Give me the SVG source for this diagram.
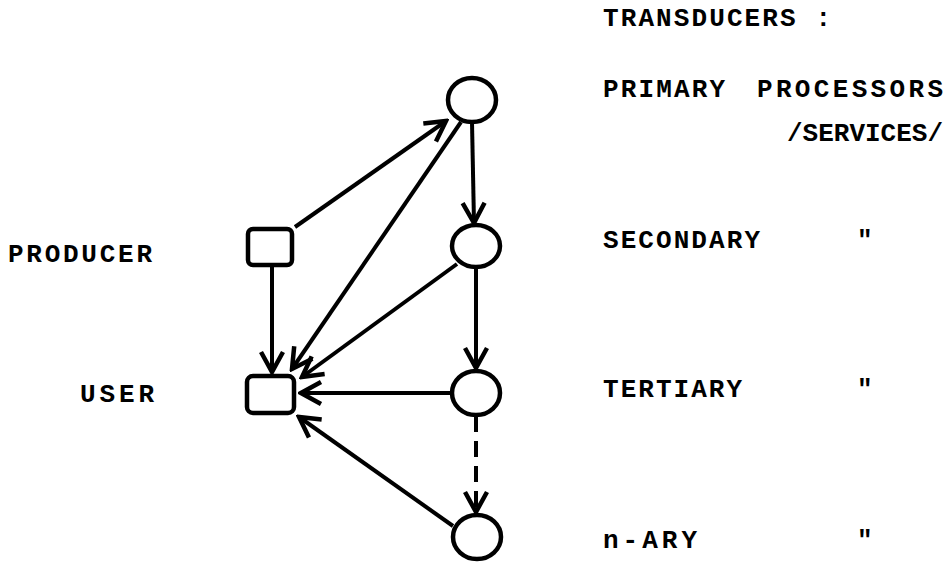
<svg xmlns="http://www.w3.org/2000/svg" width="945" height="565" viewBox="0 0 945 565">
  <style>
    .node { fill: none; stroke: #000; stroke-width: 4.5; }
    .edge { fill: none; stroke: #000; stroke-width: 4; stroke-linecap: butt; }
    .dash { stroke-dasharray: 16 9; }
    .label { font-family: "Liberation Mono", "DejaVu Sans Mono", monospace; font-weight: bold; font-size: 26px; fill: #000; }
  </style>
  <defs>
    <marker id="chev" viewBox="-3 -3 26 28" refX="20" refY="11" markerWidth="26" markerHeight="28" markerUnits="userSpaceOnUse" orient="auto">
      <path d="M0,0 L20,11 L0,22" fill="none" stroke="#000" stroke-width="4.5" stroke-linejoin="miter"/>
    </marker>
  </defs>

  <rect width="945" height="565" fill="#fff"/>

  <!-- connectors -->
  <g id="connectors">
    <line id="producer-primary" class="edge" x1="295" y1="227" x2="446" y2="121" marker-end="url(#chev)"/>
    <line id="primary-secondary" class="edge" x1="472" y1="122" x2="474" y2="223" marker-end="url(#chev)"/>
    <line id="primary-user" class="edge" x1="461" y1="122" x2="292" y2="369" marker-end="url(#chev)"/>
    <line id="secondary-user" class="edge" x1="457" y1="264" x2="302" y2="377" marker-end="url(#chev)"/>
    <line id="secondary-tertiary" class="edge" x1="476" y1="267" x2="476" y2="368" marker-end="url(#chev)"/>
    <line id="producer-user" class="edge" x1="272" y1="265" x2="272" y2="372" marker-end="url(#chev)"/>
    <line id="tertiary-user" class="edge" x1="451" y1="393" x2="301" y2="393" marker-end="url(#chev)"/>
    <line id="tertiary-nary" class="edge dash" x1="476" y1="416" x2="476" y2="512" marker-end="url(#chev)"/>
    <line id="nary-user" class="edge" x1="453" y1="526" x2="299" y2="417" marker-end="url(#chev)"/>
  </g>

  <!-- nodes -->
  <g id="primary"><ellipse class="node" cx="472" cy="100" rx="24" ry="22"/></g>
  <g id="secondary"><ellipse class="node" cx="476" cy="246" rx="24" ry="21"/></g>
  <g id="tertiary"><ellipse class="node" cx="476" cy="393" rx="24" ry="22"/></g>
  <g id="nary"><ellipse class="node" cx="477" cy="537" rx="24" ry="22"/></g>
  <g id="producer"><rect class="node" x="248" y="229" width="44" height="36" rx="5"/></g>
  <g id="user"><rect class="node" x="247" y="376" width="47" height="37" rx="6"/></g>

  <!-- labels -->
  <g id="labels">
    <text class="label" x="603" y="26" textLength="228" lengthAdjust="spacing">TRANSDUCERS :</text>
    <text class="label" x="603" y="97" textLength="122" lengthAdjust="spacing">PRIMARY</text>
    <text class="label" x="757" y="97" textLength="186" lengthAdjust="spacing">PROCESSORS</text>
    <text class="label" x="787" y="141" textLength="156" lengthAdjust="spacing">/SERVICES/</text>
    <text class="label" x="603" y="248" textLength="157" lengthAdjust="spacing">SECONDARY</text>
    <text class="label" x="603" y="397" textLength="139" lengthAdjust="spacing">TERTIARY</text>
    <text class="label" x="603" y="548" textLength="94" lengthAdjust="spacing">n-ARY</text>
    <text class="label" x="857" y="248">"</text>
    <text class="label" x="857" y="397">"</text>
    <text class="label" x="857" y="548">"</text>
    <text class="label" x="8" y="262" textLength="144" lengthAdjust="spacing">PRODUCER</text>
    <text class="label" x="80" y="402" textLength="74" lengthAdjust="spacing">USER</text>
  </g>
</svg>
